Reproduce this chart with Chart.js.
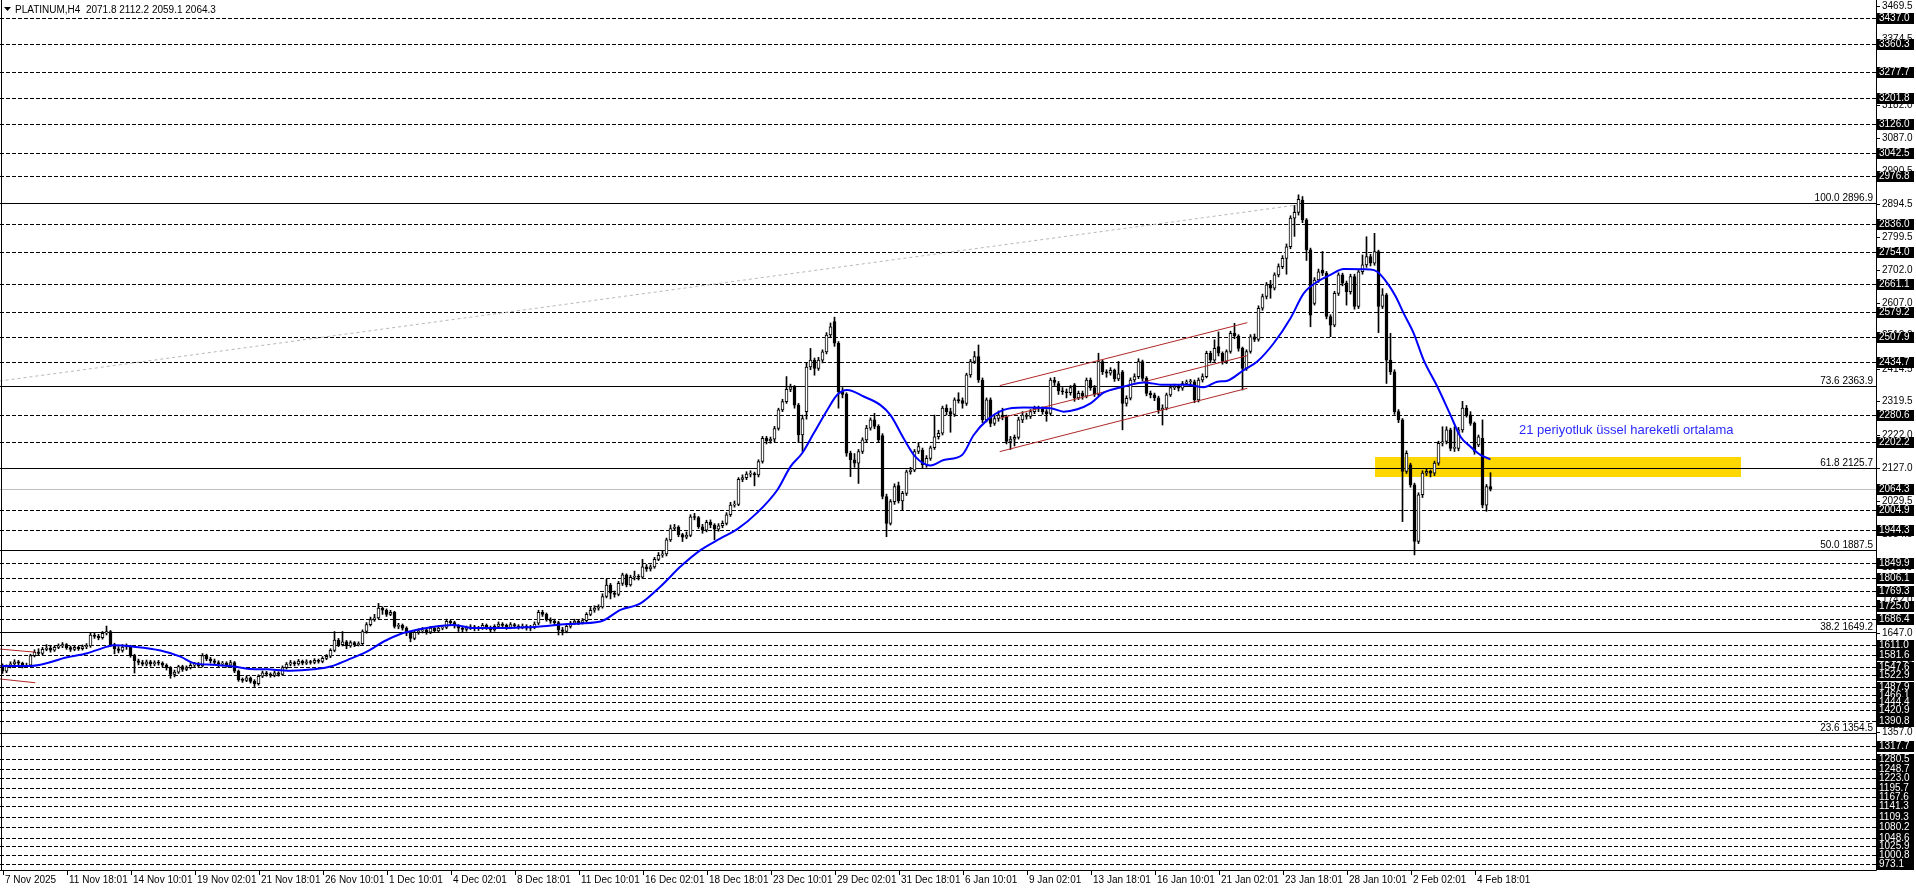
<!DOCTYPE html>
<html><head><meta charset="utf-8">
<script src="https://cdn.jsdelivr.net/npm/chart.js@4.4.1/dist/chart.umd.min.js"></script>
<style>html,body{margin:0;padding:0;background:#fff;overflow:hidden}canvas{display:block}</style>
</head><body><canvas id="c" width="1916" height="888"></canvas>
<script>
// ===== DATA (PLATINUM, H4) =====
const open=[
1548,1535,1548,1556,1562,1558,1549,1552,1580,1590,
1586,1598,1602,1596,1604,1608,1612,1603,1598,1604,
1600,1606,1608,1640,1636,1632,1645,1650,1611,1600,
1595,1605,1608,1580,1565,1560,1555,1562,1556,1560,
1558,1552,1545,1525,1532,1548,1540,1545,1552,1555,
1550,1580,1570,1565,1560,1555,1558,1552,1560,1535,
1510,1508,1515,1505,1498,1520,1530,1526,1522,1530,
1525,1545,1555,1560,1556,1564,1558,1562,1560,1566,
1563,1572,1578,1595,1625,1612,1620,1608,1618,1612,
1615,1650,1670,1685,1690,1718,1712,1700,1706,1665,
1668,1660,1645,1630,1648,1652,1655,1648,1660,1652,
1660,1662,1680,1676,1666,1660,1656,1660,1664,1658,
1660,1668,1662,1655,1665,1672,1668,1662,1670,1666,
1663,1666,1660,1662,1674,1706,1700,1684,1680,1676,
1655,1650,1665,1675,1680,1676,1682,1700,1712,1718,
1722,1752,1785,1762,1758,1790,1815,1786,1808,1810,
1808,1838,1832,1838,1860,1872,1876,1917,1950,1954,
1932,1925,1930,1984,1982,1955,1945,1968,1960,1948,
1958,1965,1990,2018,2020,2093,2098,2108,2110,2106,
2145,2212,2205,2210,2241,2295,2319,2355,2362,2309,
2222,2290,2420,2440,2416,2440,2464,2513,2552,2489,
2348,2340,2169,2150,2140,2174,2208,2242,2266,2247,
2220,2043,1965,2028,2075,2030,2052,2115,2120,2174,
2178,2135,2154,2185,2217,2227,2300,2290,2282,2324,
2322,2314,2397,2436,2450,2382,2266,2324,2256,2270,
2280,2275,2203,2210,2215,2266,2280,2276,2290,2300,
2298,2290,2285,2382,2372,2350,2348,2345,2368,2330,
2343,2335,2382,2360,2340,2436,2406,2402,2410,2385,
2406,2314,2329,2382,2392,2436,2387,2343,2339,2330,
2295,2300,2339,2360,2363,2358,2372,2377,2377,2324,
2382,2392,2460,2440,2479,2460,2436,2465,2518,2510,
2474,2416,2465,2508,2500,2591,2625,2659,2649,2688,
2712,2736,2770,2853,2870,2906,2848,2761,2605,2673,
2702,2693,2567,2542,2634,2688,2664,2639,2683,2596,
2697,2717,2741,2722,2756,2596,2630,2440,2406,2290,
2266,2116,2135,2077,1912,2048,2111,2116,2111,2140,
2198,2203,2237,2183,2183,2237,2300,2281,2256,2193,
2212,2018,2071.8];
const high=[
1556,1553,1562,1568,1566,1561,1558,1584,1597,1600,
1604,1612,1607,1609,1614,1618,1615,1608,1610,1607,
1611,1615,1645,1646,1642,1650,1666,1653,1616,1606,
1612,1614,1610,1584,1570,1566,1567,1566,1565,1566,
1562,1556,1548,1538,1552,1552,1550,1557,1560,1560,
1586,1584,1575,1570,1565,1563,1562,1566,1563,1538,
1515,1520,1518,1510,1524,1535,1534,1530,1535,1533,
1550,1560,1566,1564,1569,1567,1568,1566,1571,1570,
1577,1583,1600,1650,1630,1650,1624,1623,1621,1620,
1655,1676,1692,1700,1732,1722,1716,1712,1709,1674,
1672,1664,1650,1653,1658,1662,1660,1665,1664,1666,
1668,1686,1684,1680,1670,1664,1666,1670,1668,1665,
1674,1672,1666,1670,1678,1676,1672,1676,1674,1670,
1672,1670,1668,1678,1712,1712,1704,1690,1686,1680,
1662,1670,1680,1686,1684,1688,1705,1720,1725,1728,
1760,1802,1790,1768,1796,1820,1818,1814,1826,1816,
1860,1845,1844,1866,1880,1884,1922,1960,1962,1958,
1936,1940,1990,1994,1985,1962,1974,1975,1964,1964,
1972,1996,2026,2030,2098,2106,2115,2118,2114,2150,
2218,2218,2216,2247,2300,2326,2392,2370,2366,2314,
2280,2432,2474,2446,2448,2470,2520,2548,2565,2494,
2360,2345,2175,2168,2180,2214,2250,2272,2285,2252,
2226,2050,2034,2080,2085,2058,2120,2128,2180,2200,
2184,2162,2190,2280,2236,2306,2310,2300,2330,2345,
2330,2402,2442,2465,2484,2388,2330,2330,2280,2292,
2300,2280,2218,2222,2274,2290,2286,2296,2306,2306,
2304,2296,2388,2390,2378,2360,2356,2366,2372,2350,
2350,2388,2388,2366,2460,2440,2412,2418,2414,2436,
2410,2336,2388,2400,2444,2440,2392,2350,2344,2335,
2310,2344,2366,2370,2368,2378,2382,2384,2382,2388,
2400,2466,2466,2499,2522,2464,2470,2524,2547,2514,
2478,2470,2514,2516,2598,2632,2666,2672,2694,2720,
2744,2778,2860,2890,2921,2916,2852,2766,2680,2705,
2756,2698,2572,2640,2694,2693,2670,2690,2690,2704,
2746,2799,2748,2809,2760,2648,2634,2518,2412,2296,
2270,2176,2140,2082,2054,2118,2124,2120,2146,2204,
2246,2246,2242,2246,2244,2320,2308,2290,2260,2222,
2266,2078,2112.2];
const low=[
1528,1530,1544,1552,1550,1544,1545,1550,1576,1580,
1582,1594,1590,1592,1600,1603,1598,1592,1594,1595,
1596,1600,1604,1630,1626,1628,1640,1606,1585,1588,
1590,1598,1575,1529,1553,1550,1550,1549,1550,1552,
1546,1538,1514,1518,1528,1534,1536,1541,1547,1545,
1547,1565,1558,1553,1548,1550,1546,1548,1530,1505,
1502,1504,1500,1490,1494,1516,1520,1517,1518,1520,
1522,1541,1550,1550,1552,1553,1554,1555,1556,1558,
1559,1568,1574,1591,1606,1608,1600,1604,1606,1608,
1612,1645,1666,1680,1686,1700,1694,1696,1660,1658,
1654,1638,1620,1626,1642,1646,1642,1644,1647,1648,
1655,1658,1670,1660,1650,1648,1651,1656,1652,1653,
1656,1656,1648,1651,1661,1662,1656,1658,1660,1657,
1658,1654,1652,1658,1670,1694,1680,1674,1670,1640,
1640,1646,1660,1670,1670,1672,1678,1696,1706,1712,
1718,1748,1745,1750,1754,1784,1780,1782,1800,1800,
1804,1825,1826,1834,1856,1866,1870,1912,1944,1926,
1912,1920,1926,1975,1950,1936,1940,1952,1917,1942,
1952,1960,1985,2012,2016,2086,2092,2100,2074,2100,
2140,2196,2198,2202,2236,2290,2314,2348,2300,2200,
2174,2268,2412,2396,2410,2432,2458,2505,2480,2300,
2330,2160,2101,2128,2081,2168,2200,2236,2240,2200,
2036,1926,1960,2020,2024,2004,2046,2108,2115,2168,
2126,2128,2148,2180,2210,2222,2280,2230,2276,2315,
2300,2308,2390,2430,2375,2258,2260,2246,2250,2262,
2266,2196,2180,2190,2210,2258,2268,2270,2284,2290,
2282,2262,2280,2366,2340,2340,2330,2338,2320,2325,
2326,2330,2352,2334,2336,2398,2390,2396,2378,2380,
2237,2306,2324,2376,2386,2380,2336,2330,2322,2285,
2251,2295,2334,2354,2350,2352,2368,2370,2316,2318,
2376,2388,2432,2436,2452,2428,2430,2460,2502,2466,
2353,2410,2460,2494,2495,2585,2618,2620,2644,2682,
2706,2690,2764,2800,2862,2840,2730,2537,2600,2666,
2686,2560,2508,2537,2628,2656,2600,2632,2588,2590,
2690,2710,2714,2716,2520,2590,2372,2398,2282,2258,
1970,2110,2070,1873,1906,2040,2104,2100,2104,2134,
2190,2196,2176,2174,2176,2230,2274,2250,2166,2188,
2010,2000,2059.1];
const close=[
1535,1548,1556,1562,1558,1549,1552,1580,1590,1586,
1598,1602,1596,1604,1608,1612,1603,1598,1604,1600,
1606,1608,1640,1636,1632,1645,1650,1611,1600,1595,
1605,1608,1580,1565,1560,1555,1562,1556,1560,1558,
1552,1545,1525,1532,1548,1540,1545,1552,1555,1550,
1580,1570,1565,1560,1555,1558,1552,1560,1535,1510,
1508,1515,1505,1498,1520,1530,1526,1522,1530,1525,
1545,1555,1560,1556,1564,1558,1562,1560,1566,1563,
1572,1578,1595,1625,1612,1620,1608,1618,1612,1615,
1650,1670,1685,1690,1718,1712,1700,1706,1665,1668,
1660,1645,1630,1648,1652,1655,1648,1660,1652,1660,
1662,1680,1676,1666,1660,1656,1660,1664,1658,1660,
1668,1662,1655,1665,1672,1668,1662,1670,1666,1663,
1666,1660,1662,1672,1706,1700,1684,1680,1676,1655,
1650,1665,1675,1680,1676,1682,1700,1712,1718,1722,
1752,1785,1762,1758,1790,1815,1786,1808,1810,1808,
1838,1832,1838,1860,1872,1876,1917,1950,1954,1932,
1925,1930,1984,1982,1955,1945,1968,1960,1948,1958,
1965,1990,2018,2020,2093,2098,2108,2110,2106,2145,
2212,2205,2210,2241,2295,2319,2355,2362,2309,2222,
2270,2420,2440,2416,2440,2464,2513,2537,2489,2348,
2340,2169,2150,2140,2174,2208,2242,2266,2247,2208,
2043,1965,2028,2072,2030,2052,2115,2120,2174,2188,
2135,2154,2185,2217,2227,2300,2290,2282,2324,2322,
2314,2397,2436,2450,2382,2266,2324,2256,2270,2280,
2275,2203,2210,2215,2266,2280,2276,2290,2300,2298,
2290,2283,2382,2375,2350,2348,2345,2360,2330,2343,
2335,2382,2360,2340,2436,2406,2402,2410,2385,2400,
2314,2329,2382,2392,2436,2387,2343,2339,2330,2295,
2300,2339,2360,2363,2358,2372,2377,2377,2324,2382,
2392,2460,2440,2474,2460,2436,2465,2518,2510,2474,
2416,2465,2508,2500,2591,2625,2659,2649,2688,2712,
2736,2770,2853,2870,2908,2848,2761,2571,2673,2697,
2693,2567,2542,2634,2688,2664,2639,2683,2596,2697,
2717,2741,2722,2756,2596,2630,2440,2406,2290,2266,
2116,2169,2077,1912,2048,2111,2116,2111,2140,2198,
2203,2237,2183,2183,2237,2300,2281,2256,2174,2217,
2018,2072,2064.3];

// 21-period EMA (bar index, price)
const emaBar=[-0.5,7,16.2,21.2,26.2,27.8,32.8,39.5,44.5,47.8,52.8,57.8,61.2,66.2,72,77.8,82,86.2,91.2,95.3,99.5,103.7,107.8,112.8,117.8,124.5,129.5,133.7,141.2,149.5,154.5,159.5,164.5,169.5,174.5,179.5,183.7,188.7,193.7,197,199.9,202.8,206.2,208.7,211.2,215.3,219.5,222,225.3,228.2,232,235.3,239.9,242.8,246.2,250.3,255.3,262,265.3,268.7,272,275.3,280.3,285.3,290.3,296.2,300.3,303.7,306.2,310.3,313.7,317.8,322,325.3,328.7,332,335.3,342,343.7,346.2,348.3,350.3,352.8,355.3,358.7,362,364.5,367,369.5,372];
const emaVal=[1550,1550,1575,1587,1606,1610,1606,1595,1577,1558,1553,1548,1542,1540,1536,1540,1548,1567,1592,1621,1643,1655,1664,1669,1660,1660,1662,1664,1672,1679,1713,1732,1781,1839,1887,1921,1948,1996,2062,2130,2169,2227,2295,2339,2353,2334,2309,2280,2212,2159,2133,2149,2164,2222,2266,2295,2302,2300,2290,2297,2314,2345,2363,2375,2368,2368,2361,2377,2380,2411,2436,2489,2562,2634,2668,2688,2705,2704,2697,2664,2625,2576,2518,2440,2363,2280,2217,2188,2164,2151];

// x-axis labels (bar index -> text)
const xLabelBars=[0,16,32,48,64,80,96,112,128,144,160,176,192,208,224,240,256,272,288,304,320,336,352,368];
const xLabels=['7 Nov 2025','11 Nov 18:01','14 Nov 10:01','19 Nov 02:01','21 Nov 18:01','26 Nov 10:01','1 Dec 10:01','4 Dec 02:01','8 Dec 18:01','11 Dec 10:01','16 Dec 02:01','18 Dec 18:01','23 Dec 10:01','29 Dec 02:01','31 Dec 18:01','6 Jan 10:01','9 Jan 02:01','13 Jan 18:01','16 Jan 10:01','21 Jan 02:01','23 Jan 18:01','28 Jan 10:01','2 Feb 02:01','4 Feb 18:01'];
// price axis ticks
const yTicks=[3469.5,3374.5,3279.5,3182.0,3087.0,2990.5,2894.5,2799.5,2702.0,2607.0,2512.0,2414.5,2319.5,2222.0,2127.0,2029.5,1934.5,1837.0,1742.0,1647.0,1549.5,1452.5,1357.0,1262.0,1164.5,1069.5,972.0];
// dashed horizontal levels
const hLevels=[3437.0,3360.3,3277.7,3201.8,3126.0,3042.5,2976.8,2836.0,2754.0,2661.1,2579.2,2507.9,2434.7,2280.6,2202.2,2004.9,1944.3,1849.9,1806.1,1769.3,1725.0,1686.4,1611.0,1581.6,1547.6,1522.9,1487.9,1466.1,1444.4,1420.9,1390.8,1317.7,1280.5,1248.7,1223.0,1195.7,1167.6,1141.3,1109.3,1080.2,1048.6,1025.9,1000.8,973.1];
// Fibonacci levels
const fibPct=['100.0','73.6','61.8','50.0','38.2','23.6'];
const fibPrice=[2896.9,2363.9,2125.7,1887.5,1649.2,1354.5];
const lastPrice=2064.3;
const ohlcTitle='PLATINUM,H4  2071.8 2112.2 2059.1 2064.3';
// support zone (bars, prices)
const zoneBars=[343.1,434.6];
const zonePrices=[2100.7,2158.7];
// channel lines [bar1, price1, bar2, price2]
const channelUp=[249.3,2365.6,311.2,2549];
const channelMid=[249.3,2270.7,311.2,2452.9];
const channelLow=[249.3,2173.6,311.2,2358];
const leftUp=[-0.7,1599,8.2,1590];
const leftMid=[-0.7,1551,7,1548];
const leftLow=[-0.7,1512,8.2,1501];
const fibTrend=[-0.7,2379,323.7,2891.5];
const emaNote='21 periyotluk üssel hareketli ortalama';
const emaNoteAt=[379.1,2234];

// ===== BUILD =====
const N=close.length;
const bodies=[],wicks=[],bodyBg=[];
for(let i=0;i<N;i++){
  bodies.push({x:i,y:[open[i],close[i]]});
  wicks.push({x:i,y:[low[i],high[i]]});
  bodyBg.push(close[i]>=open[i]?'#ffffff':'#000000');
}
const seg=a=>[{x:a[0],y:a[1]},{x:a[2],y:a[3]}];
const redStyle={type:'line',borderColor:'#b02828',borderWidth:1,pointRadius:0,order:1,fill:false};

const FONT='10px "Liberation Sans", Arial, sans-serif';
const mt={
  id:'mt',
  beforeDraw(c){const x=c.ctx;x.save();x.fillStyle='#fff';x.fillRect(0,0,c.width,c.height);x.restore();},
  beforeDatasetsDraw(c){
    const ctx=c.ctx,xs=c.scales.x,ys=c.scales.y,a=c.chartArea;
    ctx.save();
    const zx1=xs.getPixelForValue(zoneBars[0]),zx2=xs.getPixelForValue(zoneBars[1]);
    const zy1=ys.getPixelForValue(zonePrices[1]),zy2=ys.getPixelForValue(zonePrices[0]);
    ctx.fillStyle='#ffd700';ctx.fillRect(Math.round(zx1),Math.round(zy1),Math.round(zx2-zx1),Math.round(zy2-zy1));
    ctx.strokeStyle='#000';ctx.lineWidth=1;ctx.setLineDash([4,2]);
    hLevels.forEach(v=>{const y=Math.round(ys.getPixelForValue(v))+0.5;ctx.beginPath();ctx.moveTo(a.left,y);ctx.lineTo(a.right,y);ctx.stroke();});
    ctx.setLineDash([]);
    ctx.strokeStyle='#c0c0c0';
    {const y=Math.round(ys.getPixelForValue(lastPrice))+0.5;ctx.beginPath();ctx.moveTo(a.left,y);ctx.lineTo(a.right,y);ctx.stroke();}
    ctx.strokeStyle='#000';
    fibPrice.forEach(v=>{const y=Math.round(ys.getPixelForValue(v))+0.5;ctx.beginPath();ctx.moveTo(a.left,y);ctx.lineTo(a.right,y);ctx.stroke();});
    ctx.restore();
  },
  afterDatasetsDraw(c){
    const ctx=c.ctx,xs=c.scales.x,ys=c.scales.y,a=c.chartArea;
    ctx.save();
    ctx.font=FONT;ctx.fillStyle='#000';ctx.textAlign='right';ctx.textBaseline='alphabetic';
    fibPrice.forEach((v,i)=>{const y=Math.round(ys.getPixelForValue(v));ctx.fillText(fibPct[i]+' '+v.toFixed(1),a.right-3,y-2);});
    ctx.font='13px "Liberation Sans", Arial, sans-serif';ctx.fillStyle='#2a2aff';ctx.textAlign='left';ctx.textBaseline='middle';
    ctx.fillText(emaNote,xs.getPixelForValue(emaNoteAt[0]),ys.getPixelForValue(emaNoteAt[1]));
    ctx.strokeStyle='#000';ctx.lineWidth=1;
    ctx.beginPath();ctx.moveTo(a.right+0.5,0);ctx.lineTo(a.right+0.5,a.bottom+0.5);ctx.lineTo(0,a.bottom+0.5);ctx.stroke();
    ctx.beginPath();ctx.moveTo(1.5,0);ctx.lineTo(1.5,a.bottom);ctx.stroke();
    ctx.font=FONT;ctx.textAlign='left';ctx.textBaseline='middle';ctx.fillStyle='#000';
    yTicks.forEach(v=>{const y=Math.round(ys.getPixelForValue(v));if(y<0||y>a.bottom)return;
      ctx.fillRect(a.right+1,y,3,1);ctx.fillText(v.toFixed(1),a.right+6,y+0.5);});
    const boxes=hLevels.concat([lastPrice]);
    boxes.forEach(v=>{const y=Math.round(ys.getPixelForValue(v));
      ctx.fillStyle='#000';ctx.fillRect(a.right+1,y-5,37,11);
      ctx.fillStyle='#fff';ctx.fillText(v.toFixed(1),a.right+3,y+0.5);});
    ctx.fillStyle='#000';ctx.textBaseline='middle';
    xLabelBars.forEach((b,i)=>{const x=Math.round(xs.getPixelForValue(b));
      ctx.fillRect(x,a.bottom+1,1,4);ctx.fillText(xLabels[i],x+2,a.bottom+10);});
    ctx.beginPath();ctx.moveTo(4,7);ctx.lineTo(11,7);ctx.lineTo(7.5,11);ctx.closePath();ctx.fill();
    ctx.font=FONT;ctx.fillText(ohlcTitle,15,10);
    ctx.restore();
  }
};

new Chart(document.getElementById('c'),{
  type:'bar',
  data:{datasets:[
    {type:'line',data:seg(fibTrend),borderColor:'#b8b8b8',borderWidth:1,borderDash:[3,3],pointRadius:0,order:5},
    {type:'bar',data:wicks,backgroundColor:'#000',borderWidth:0,barThickness:1,grouped:false,order:4},
    {type:'bar',data:bodies,backgroundColor:bodyBg,borderColor:'#000',borderWidth:1,borderSkipped:false,barThickness:3,grouped:false,minBarLength:1,order:3},
    Object.assign({data:seg(channelUp)},redStyle),
    Object.assign({data:seg(channelMid)},redStyle),
    Object.assign({data:seg(channelLow)},redStyle),
    Object.assign({data:seg(leftUp)},redStyle),
    Object.assign({data:seg(leftMid)},redStyle),
    Object.assign({data:seg(leftLow)},redStyle),
    {type:'line',data:emaBar.map((b,i)=>({x:b,y:emaVal[i]})),borderColor:'#0000ff',borderWidth:2,pointRadius:0,cubicInterpolationMode:'monotone',order:0,fill:false}
  ]},
  options:{
    responsive:false,animation:false,devicePixelRatio:1,events:[],
    layout:{padding:{left:0,top:0,right:40,bottom:18}},
    plugins:{legend:{display:false},tooltip:{enabled:false}},
    scales:{
      x:{type:'linear',min:-0.625,max:468.375,offset:false,display:false},
      y:{type:'linear',min:956,max:3488,display:false}
    }
  },
  plugins:[mt]
});
</script>
</body></html>
